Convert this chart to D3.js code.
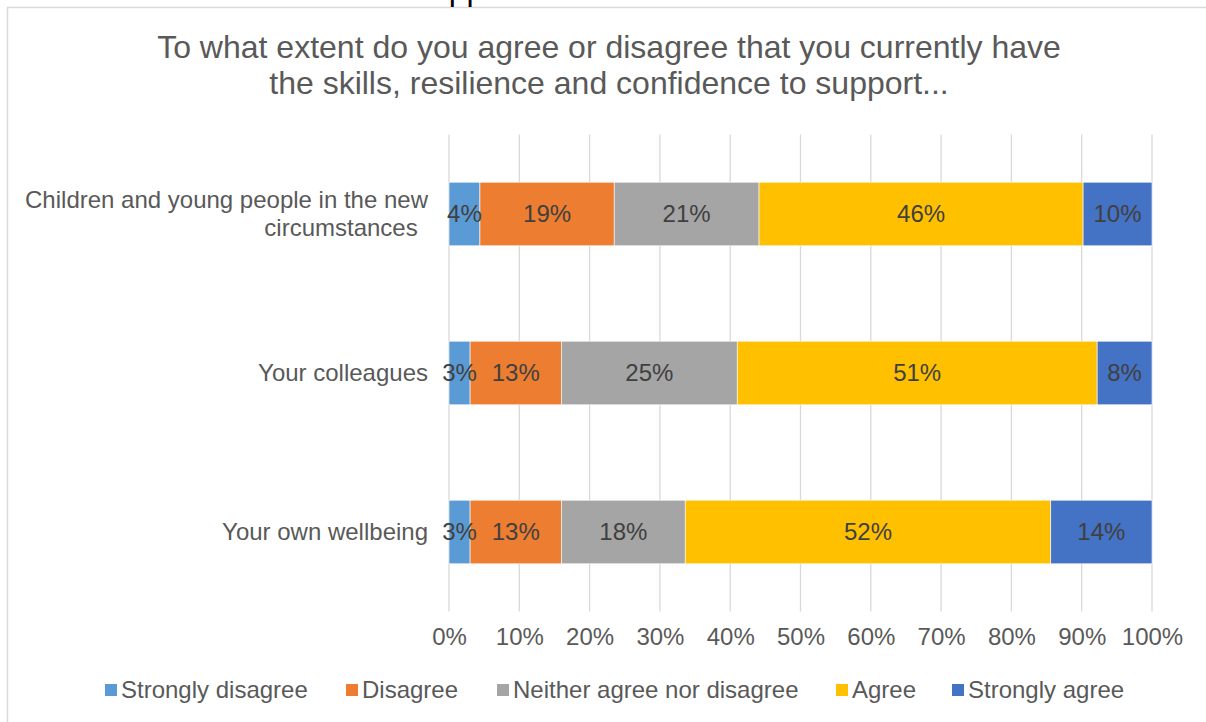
<!DOCTYPE html>
<html>
<head>
<meta charset="utf-8">
<script src="https://cdn.jsdelivr.net/npm/d3@7"></script>
<style>
  html, body { margin: 0; padding: 0; background: #fff; }
  svg { display: block; font-family: "Liberation Sans", Arial, sans-serif; }
</style>
</head>
<body>
<svg id="chart" width="1206" height="722"></svg>
<script>
// Survey responses (% of respondents) per statement
const categories = [
  "Children and young people in the new circumstances",
  "Your colleagues",
  "Your own wellbeing"
];
const responseLevels = ["Strongly disagree", "Disagree", "Neither agree nor disagree", "Agree", "Strongly agree"];
const stronglyDisagree = [4.4, 3.0, 3.0];
const disagree         = [19.1, 13.0, 13.0];
const neither          = [20.6, 25.0, 17.6];
const agree            = [46.1, 51.2, 52.0];
const stronglyAgree    = [9.8, 7.8, 14.4];
const tickValues = [0, 10, 20, 30, 40, 50, 60, 70, 80, 90, 100];
const levelColors = ["#5B9BD5", "#ED7D31", "#A5A5A5", "#FFC000", "#4472C4"];

const seriesValues = [stronglyDisagree, disagree, neither, agree, stronglyAgree];
const rows = categories.map((c, i) => {
  const r = { category: c };
  responseLevels.forEach((lvl, k) => { r[lvl] = seriesValues[k][i]; });
  return r;
});

const svg = d3.select("#chart");
const W = 1206, H = 722;

// Chart frame
svg.append("path")
  .attr("d", `M7.5,${H} V7.5 H${W}`)
  .attr("fill", "none").attr("stroke", "#D9D9D9").attr("stroke-width", 1.5);

// Clipped text fragment above the frame
svg.append("text")
  .attr("x", 415).attr("y", 0)
  .attr("font-size", 32).attr("fill", "#000")
  .text("support");

// Title
const title = svg.append("text")
  .attr("text-anchor", "middle")
  .attr("font-size", 32)
  .attr("fill", "#595959");
title.append("tspan").attr("x", 609).attr("y", 58)
  .text("To what extent do you agree or disagree that you currently have");
title.append("tspan").attr("x", 609).attr("y", 94)
  .text("the skills, resilience and confidence to support...");

const margin = { left: 449, right: W - 1152, top: 134.5, bottom: H - 611.5 };

const x = d3.scaleLinear().domain([0, 100]).range([margin.left, W - margin.right]);
const y = d3.scaleBand().domain(categories).range([margin.top, H - margin.bottom]).paddingInner(0.6).paddingOuter(0.3);

// Vertical gridlines
svg.append("g").selectAll("line").data(tickValues).join("line")
  .attr("x1", d => x(d)).attr("x2", d => x(d))
  .attr("y1", margin.top).attr("y2", H - margin.bottom)
  .attr("stroke", "#D9D9D9").attr("stroke-width", 1.3);

// Stacked bars
const stack = d3.stack().keys(responseLevels);
const stacked = stack(rows);
const color = d3.scaleOrdinal().domain(responseLevels).range(levelColors);

const layers = svg.append("g").selectAll("g").data(stacked).join("g")
  .attr("fill", d => color(d.key));

layers.selectAll("rect").data(d => d).join("rect")
  .attr("x", d => x(d[0]))
  .attr("width", d => x(d[1]) - x(d[0]))
  .attr("y", d => y(d.data.category))
  .attr("height", y.bandwidth())
  .attr("stroke", "#fff").attr("stroke-width", 0.6);

// Data labels
const labels = svg.append("g");
stacked.forEach(layer => {
  layer.forEach(d => {
    labels.append("text")
      .attr("x", (x(d[0]) + x(d[1])) / 2)
      .attr("y", y(d.data.category) + y.bandwidth() / 2)
      .attr("dy", "0.35em")
      .attr("text-anchor", "middle")
      .attr("font-size", 24)
      .attr("fill", "#404040")
      .text(d3.format(".0f")(d[1] - d[0]) + "%");
  });
});

// X axis tick labels
const xAxis = d3.axisBottom(x).tickValues(tickValues).tickFormat(d => d + "%").tickSize(0).tickPadding(16);
const gx = svg.append("g").attr("transform", `translate(0,${H - margin.bottom})`).call(xAxis);
gx.select(".domain").remove();
gx.selectAll("text").attr("font-size", 24).attr("fill", "#595959").attr("font-family", "Liberation Sans, Arial, sans-serif");

// Category labels
const yAxis = d3.axisLeft(y).tickSize(0).tickPadding(21);
const gy = svg.append("g").attr("transform", `translate(${margin.left},0)`).call(yAxis);
gy.select(".domain").remove();
gy.selectAll("text")
  .attr("font-size", 24).attr("fill", "#595959").attr("font-family", "Liberation Sans, Arial, sans-serif")
  .each(function (d) {
    if (d === categories[0]) {
      const t = d3.select(this).text(null).attr("dy", null);
      t.append("tspan").attr("x", -21).attr("y", -6).text("Children and young people in the new");
      t.append("tspan").attr("x", -108).attr("y", 22).attr("text-anchor", "middle").text("circumstances");
    }
  });

// Legend
const legendX = [105, 346, 497, 836, 952];
const legend = svg.append("g");
responseLevels.forEach((lvl, k) => {
  const g = legend.append("g").attr("transform", `translate(${legendX[k]},690)`);
  g.append("rect").attr("x", 0).attr("y", -6).attr("width", 12).attr("height", 12).attr("fill", levelColors[k]);
  g.append("text").attr("x", 16).attr("y", 0).attr("dy", "0.35em")
    .attr("font-size", 24).attr("fill", "#595959").text(lvl);
});
</script>
</body>
</html>
